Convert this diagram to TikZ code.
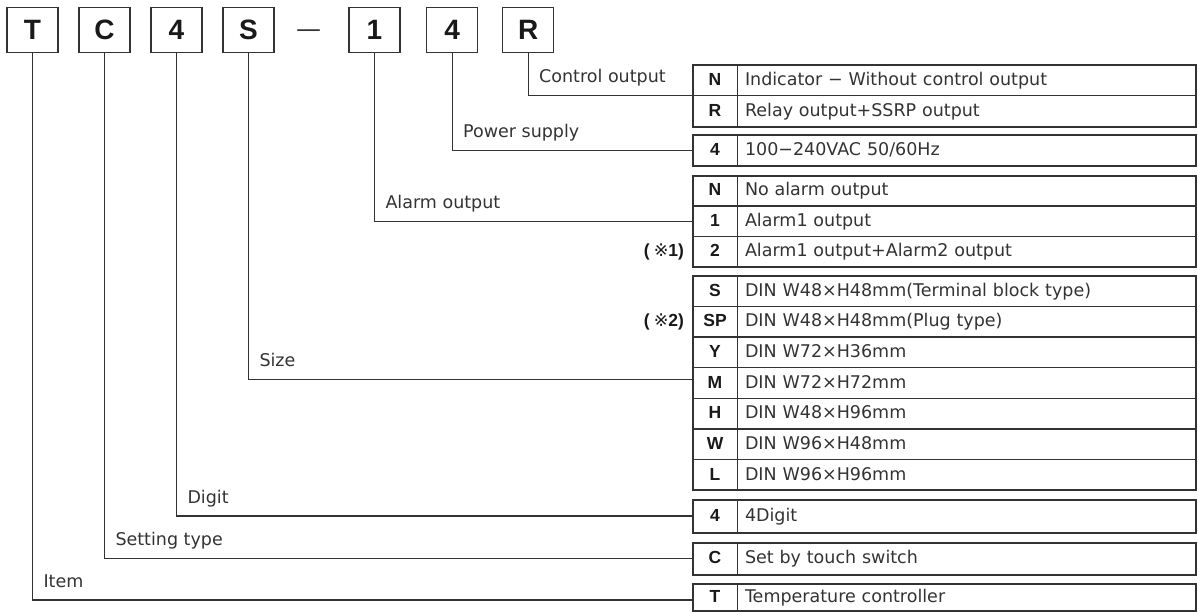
\documentclass[tikz,border=0pt]{standalone}
\usepackage{fontspec}
\setmainfont{DejaVu Sans}
\newfontfamily\keyface{Liberation Sans}
\usepackage{tikz}
\usetikzlibrary{positioning}
\definecolor{ink}{HTML}{333333}

\begin{document}
\begin{tikzpicture}[x=1pt,y=-1pt,outer sep=0pt,
    code/.style={draw=ink,line width=1.5pt,minimum width=51pt,minimum height=45pt,inner sep=0pt,text=black!90,
      font=\keyface\bfseries\fontsize{28}{30}\selectfont,text height=20pt,text depth=0pt},
    dashmark/.style={inner sep=0pt,text=ink,font=\fontsize{25}{28}\selectfont,text height=15pt,text depth=0pt},
    key/.style={draw=ink,line width=1.2pt,anchor=north west,minimum width=44.6pt,inner sep=0pt,text=black!90,
      font=\keyface\bfseries\fontsize{17.5}{20}\selectfont,text height=12.8pt,text depth=2.4pt},
    desc/.style={draw=ink,line width=1.2pt,inner ysep=0pt,inner xsep=7.7pt,text width=443.3pt,align=left,text=ink,
      font=\fontsize{17.5}{20}\selectfont,text height=12.8pt,text depth=2.4pt},
    frame/.style={draw=ink,line width=2pt},
    lead/.style={draw=ink,line width=1.2pt},
    tag/.style={anchor=base west,inner sep=0pt,xshift=11pt,yshift=13pt,text=ink,font=\fontsize{17.5}{20}\selectfont},
    note/.style={inner sep=0pt,text=black!90,font=\keyface\bfseries\fontsize{17.5}{20}\selectfont,text height=12.8pt,text depth=2.4pt}]
  \useasboundingbox (0,0) rectangle (1198,611);

  \node[code] (bT) at (32.5,29.8) {T};
  \node[code,right=21pt of bT] (bC) {C};
  \node[code,right=21pt of bC] (bD) {4};
  \node[code,right=21pt of bD] (bS) {S};
  \node[dashmark,right=22pt of bS] (dash) {—};
  \node[code,right=75pt of bS] (b1) {1};
  \node[code,right=26.7pt of b1] (bP) {4};
  \node[code,right=25pt of bP] (bR) {R};

  \foreach \n/\y/\h/\k/\t in {
      cN/65/30.8/N/{Indicator − Without control output},
      cR/95.8/30.8/R/{Relay output+SSRP output},
      p4/135.3/30.7/4/{100−240VAC 50/60Hz},
      aN/175.5/30.5/N/{No alarm output},
      a1/206/30.5/1/{Alarm1 output},
      a2/236.5/30.5/2/{Alarm1 output+Alarm2 output},
      sS/275.5/30.7/S/{DIN W48×H48mm(Terminal block type)},
      sSP/306.2/30.7/SP/{DIN W48×H48mm(Plug type)},
      sY/336.9/30.7/Y/{DIN W72×H36mm},
      sM/367.6/30.7/M/{DIN W72×H72mm},
      sH/398.3/30.7/H/{DIN W48×H96mm},
      sW/429/30.7/W/{DIN W96×H48mm},
      sL/459.7/30.7/L/{DIN W96×H96mm},
      d4/499.5/33/4/{4Digit},
      tC/542.5/32/C/{Set by touch switch},
      iT/583.5/27/T/{Temperature controller}}{
    \node[key,minimum height=\h pt] (k\n) at (692.7,\y) {\k};
    \node[desc,minimum height=\h pt,right=0pt of k\n] (d\n) {\t};
  }

  \draw[frame] (kcN.north west) rectangle (dcR.south east);
  \draw[frame] (kp4.north west) rectangle (dp4.south east);
  \draw[frame] (kaN.north west) rectangle (da2.south east);
  \draw[frame] (ksS.north west) rectangle (dsL.south east);
  \draw[frame] (kd4.north west) rectangle (dd4.south east);
  \draw[frame] (ktC.north west) rectangle (dtC.south east);
  \draw[frame] (kiT.north west) rectangle (diT.south east);

  \node[note,left=8.7pt of ka2] (n1) {(\hspace{4pt}{\normalfont ※}1)};
  \node[note,left=8.7pt of ksSP] (n2) {(\hspace{4pt}{\normalfont ※}2)};

  \draw[lead] (bR.south) |- (kcN.south west) node[pos=.5,tag] {Control output};
  \draw[lead] (bP.south) |- (kp4.west) node[pos=.5,tag] {Power supply};
  \draw[lead] (b1.south) |- (ka1.west) node[pos=.5,tag] {Alarm output};
  \draw[lead] (bS.south) |- ([yshift=3.4pt]ksM.west) node[pos=.5,tag] {Size};
  \draw[lead] (bD.south) |- (kd4.west) node[pos=.5,tag] {Digit};
  \draw[lead] (bC.south) |- (ktC.west) node[pos=.5,tag] {Setting type};
  \draw[lead] (bT.south) |- ([yshift=-3pt]kiT.west) node[pos=.5,tag] {Item};
\end{tikzpicture}
\end{document}
